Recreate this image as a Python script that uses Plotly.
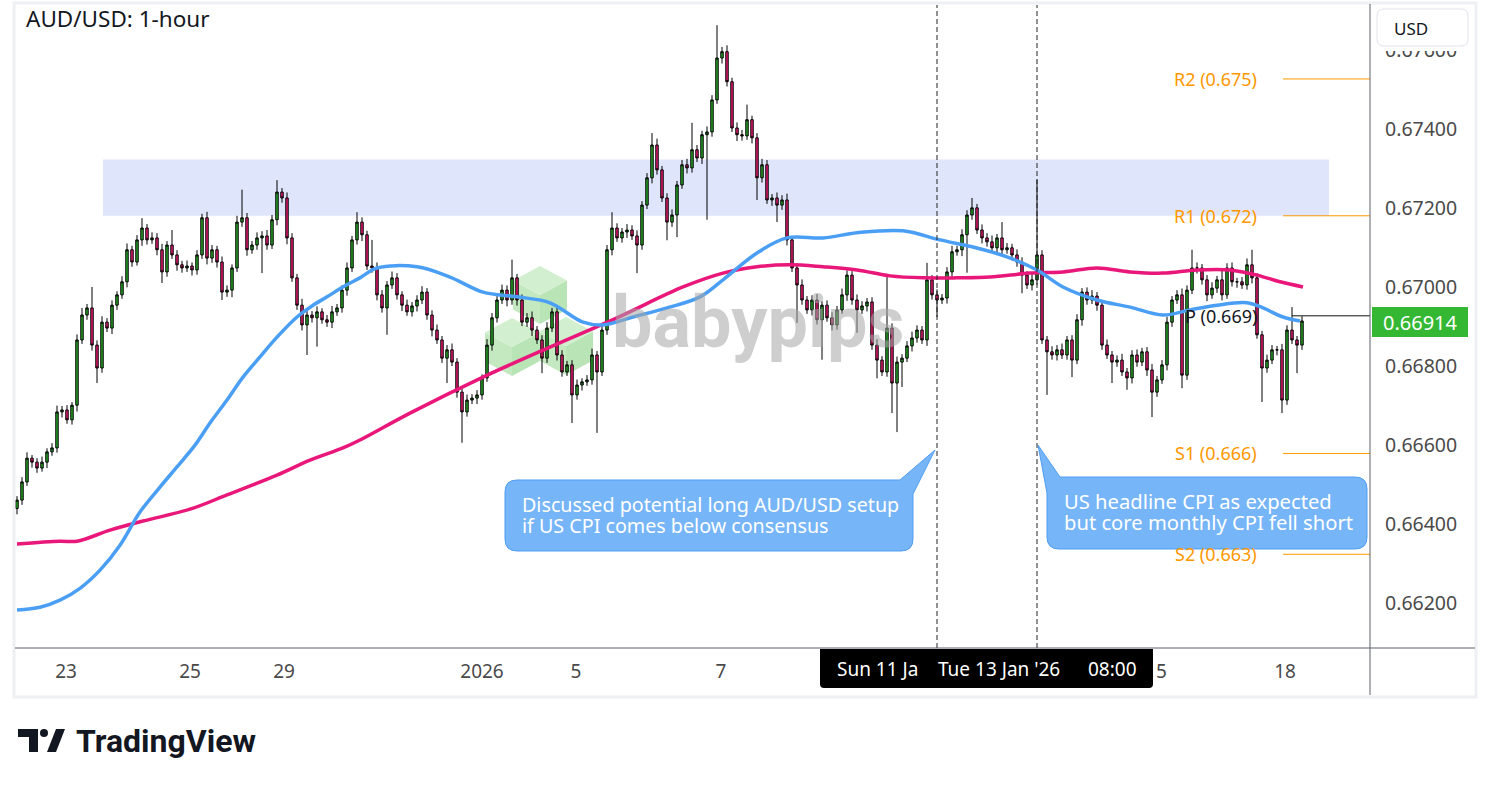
import plotly.graph_objects as go

# ---------------- data ----------------
close = [
    0.66461, 0.66507, 0.66567, 0.66557, 0.66542, 0.66557, 0.66583, 0.66593, 0.66684, 0.66689,
    0.66664, 0.66701, 0.66866, 0.66929, 0.66947, 0.66853, 0.66795, 0.66911, 0.66896, 0.66954,
    0.66980, 0.67013, 0.67094, 0.67063, 0.67119, 0.67149, 0.67119, 0.67124, 0.67094, 0.67038,
    0.67106, 0.67081, 0.67056, 0.67048, 0.67053, 0.67043, 0.67081, 0.67175, 0.67073, 0.67094,
    0.67063, 0.66987, 0.66992, 0.67048, 0.67164, 0.67175, 0.67094, 0.67106, 0.67124, 0.67129,
    0.67106, 0.67170, 0.67240, 0.67225, 0.67124, 0.67023, 0.66954, 0.66904, 0.66929, 0.66922,
    0.66937, 0.66917, 0.66911, 0.66937, 0.66947, 0.66992, 0.67048, 0.67119, 0.67164, 0.67132,
    0.67053, 0.67048, 0.66980, 0.66947, 0.67005, 0.67023, 0.66980, 0.66954, 0.66937, 0.66952,
    0.66967, 0.66987, 0.66929, 0.66891, 0.66866, 0.66820, 0.66841, 0.66810, 0.66734, 0.66684,
    0.66714, 0.66719, 0.66727, 0.66770, 0.66853, 0.66922, 0.66967, 0.66992, 0.66967, 0.67023,
    0.66967, 0.66911, 0.66922, 0.66891, 0.66866, 0.66820, 0.66896, 0.66937, 0.66828, 0.66785,
    0.66803, 0.66727, 0.66752, 0.66760, 0.66765, 0.66828, 0.66785, 0.66891, 0.67094, 0.67149,
    0.67124, 0.67139, 0.67144, 0.67129, 0.67106, 0.67207, 0.67276, 0.67359, 0.67296, 0.67225,
    0.67164, 0.67182, 0.67258, 0.67309, 0.67301, 0.67347, 0.67326, 0.67385, 0.67392, 0.67473,
    0.67579, 0.67595, 0.67519, 0.67402, 0.67385, 0.67382, 0.67423, 0.67377, 0.67276, 0.67309,
    0.67220, 0.67225, 0.67207, 0.67220, 0.67119, 0.67048, 0.67005, 0.66967, 0.66942, 0.66967,
    0.66917, 0.66954, 0.66922, 0.66904, 0.66942, 0.66980, 0.67030, 0.66967, 0.66942, 0.66952,
    0.66962, 0.66853, 0.66815, 0.66785, 0.66896, 0.66757, 0.66810, 0.66820, 0.66851, 0.66871,
    0.66891, 0.66866, 0.67018, 0.66980, 0.66967, 0.66972, 0.67038, 0.67089, 0.67094, 0.67132,
    0.67182, 0.67200, 0.67144, 0.67124, 0.67114, 0.67099, 0.67124, 0.67094, 0.67099, 0.67081,
    0.67063, 0.67030, 0.67005, 0.67018, 0.67081, 0.66866, 0.66836, 0.66828, 0.66841, 0.66828,
    0.66866, 0.66815, 0.66917, 0.66987, 0.66967, 0.66977, 0.66954, 0.66853, 0.66828, 0.66810,
    0.66815, 0.66785, 0.66770, 0.66828, 0.66810, 0.66836, 0.66790, 0.66734, 0.66765, 0.66803,
    0.66911, 0.66967, 0.66980, 0.66777, 0.66992, 0.67048, 0.67048, 0.67018, 0.66980, 0.66997,
    0.67018, 0.66980, 0.67048, 0.67013, 0.67013, 0.67005, 0.67056, 0.67023, 0.66879, 0.66795,
    0.66815, 0.66841, 0.66841, 0.66714, 0.66891, 0.66866, 0.66853, 0.66914,
]
first_open = 0.66440

# wick lengths in points (1 point = 0.00001)
upper_wick_pts = [
    10, 12, 15, 8, 10, 14, 9, 12, 16, 10,
    12, 8, 14, 18, 10, 53, 12, 15, 10, 12,
    9, 14, 16, 10, 12, 25, 10, 14, 12, 15,
    10, 38, 12, 10, 14, 9, 12, 10, 15, 12,
    10, 14, 12, 9, 16, 71, 12, 10, 14, 12,
    15, 12, 30, 10, 14, 12, 10, 16, 12, 10,
    14, 9, 12, 15, 10, 12, 14, 10, 25, 12,
    10, 66, 14, 12, 10, 16, 12, 9, 14, 10,
    12, 15, 10, 12, 14, 10, 12, 16, 10, 12,
    14, 10, 12, 9, 15, 12, 10, 14, 12, 46,
    10, 14, 12, 16, 10, 12, 15, 10, 14, 12,
    10, 12, 14, 9, 12, 16, 10, 14, 12, 40,
    12, 10, 15, 12, 14, 10, 12, 30, 16, 10,
    12, 14, 10, 12, 15, 68, 12, 10, 14, 12,
    83, 12, 16, 10, 14, 12, 38, 10, 12, 15,
    12, 10, 14, 12, 16, 10, 12, 14, 10, 12,
    15, 10, 12, 14, 10, 16, 12, 10, 14, 12,
    10, 12, 15, 10, 129, 12, 14, 10, 12, 16,
    12, 10, 43, 12, 14, 10, 12, 15, 10, 14,
    12, 25, 10, 14, 12, 16, 10, 40, 12, 10,
    14, 12, 10, 15, 190, 12, 10, 14, 12, 16,
    10, 12, 14, 10, 12, 15, 10, 12, 14, 10,
    12, 16, 10, 12, 14, 10, 12, 15, 10, 12,
    14, 10, 12, 16, 12, 46, 14, 10, 12, 15,
    10, 25, 12, 14, 10, 12, 16, 38, 12, 10,
    14, 12, 10, 15, 12, 58, 10, 12,
]
lower_wick_pts = [
    15, 12, 10, 14, 12, 9, 15, 10, 12, 14,
    10, 12, 16, 10, 12, 14, 38, 12, 10, 15,
    12, 10, 14, 12, 9, 15, 12, 10, 14, 28,
    12, 10, 15, 12, 10, 14, 12, 10, 16, 12,
    14, 20, 12, 18, 10, 12, 15, 10, 12, 89,
    12, 10, 14, 12, 16, 10, 12, 14, 76, 12,
    73, 10, 12, 15, 10, 12, 14, 10, 12, 16,
    10, 12, 14, 12, 68, 10, 12, 15, 10, 12,
    14, 10, 12, 16, 10, 12, 63, 10, 14, 78,
    12, 10, 15, 12, 10, 14, 12, 10, 16, 12,
    14, 10, 12, 15, 10, 38, 12, 10, 14, 12,
    10, 71, 12, 14, 10, 12, 154, 10, 12, 14,
    10, 12, 15, 10, 71, 12, 10, 14, 12, 10,
    46, 12, 56, 10, 14, 12, 10, 15, 215, 12,
    10, 14, 12, 10, 16, 12, 10, 14, 56, 12,
    10, 15, 43, 12, 14, 10, 96, 12, 10, 14,
    12, 101, 10, 14, 12, 10, 15, 12, 58, 10,
    14, 12, 46, 10, 12, 76, 124, 63, 10, 14,
    12, 10, 15, 12, 43, 10, 14, 12, 10, 16,
    96, 12, 10, 14, 12, 10, 15, 12, 10, 14,
    12, 46, 10, 14, 12, 10, 109, 12, 14, 10,
    12, 43, 10, 15, 12, 10, 14, 12, 10, 53,
    12, 10, 30, 14, 12, 10, 15, 63, 12, 10,
    14, 12, 10, 33, 12, 10, 14, 12, 16, 10,
    12, 14, 10, 12, 15, 10, 12, 14, 10, 86,
    12, 10, 14, 33, 12, 10, 71, 12,
]

# moving averages, sampled along the bar index
blue_ma_idx = [0, 4.6, 8.6, 12.6, 16.6, 20.6, 24.6, 28.6, 32, 35.6,
               38.6, 42, 45.2, 48.6, 52, 56, 59, 62, 65.6, 68.6,
               72, 80, 86.6, 93.2, 100, 106.6, 113.2, 117.2, 123.2, 130,
               136.6, 141.2, 148, 154, 161.2, 168, 177.2, 184.6, 191.2, 198,
               204, 209.2, 216, 222.6, 229.2, 234.6, 240, 246, 249.2, 253.2, 256.6]
blue_ma = [0.66183, 0.66190, 0.66208, 0.66238, 0.66284, 0.66347, 0.66431, 0.66494, 0.66545, 0.66600,
           0.66656, 0.66714, 0.66772, 0.66823, 0.66873, 0.66924, 0.66952, 0.66975, 0.67003, 0.67023,
           0.67048, 0.67051, 0.67025, 0.66987, 0.66975, 0.66960, 0.66911, 0.66904, 0.66924, 0.66947,
           0.66975, 0.67018, 0.67086, 0.67124, 0.67124, 0.67137, 0.67142, 0.67119, 0.67101, 0.67076,
           0.67043, 0.67000, 0.66967, 0.66949, 0.66929, 0.66942, 0.66954, 0.66960, 0.66947, 0.66924, 0.66914]
pink_ma_idx = [0, 8.6, 12, 18.6, 25.2, 34.6, 42, 52, 58.6, 65.2,
               68.6, 78.6, 93.2, 106.6, 120, 133.2, 141.2, 148, 154.6, 161.2,
               168, 174.6, 181.2, 188, 194.6, 202.6, 209.2, 216, 222.6, 229.2,
               236, 242.6, 248, 252.6, 257.2]
pink_ma = [0.66350, 0.66357, 0.66357, 0.66385, 0.66408, 0.66438, 0.66474, 0.66524, 0.66562, 0.66593,
           0.66613, 0.66681, 0.66772, 0.66848, 0.66922, 0.67000, 0.67035, 0.67051, 0.67056, 0.67051,
           0.67043, 0.67028, 0.67023, 0.67023, 0.67025, 0.67035, 0.67038, 0.67048, 0.67038, 0.67035,
           0.67043, 0.67043, 0.67030, 0.67013, 0.67000]

date_tick_idx = [9.8, 34.6, 53.4, 93, 111.8, 140.8, 227.8, 253.6]
date_tick_text = ["23", "25", "29", "2026", "5", "7", "15", "18"]
price_ticks = [0.662, 0.664, 0.666, 0.668, 0.670, 0.672, 0.674, 0.676]

pivot_names = ["R2", "R1", "P", "S1", "S2"]
pivot_values = [0.67526, 0.67180, 0.66927, 0.66579, 0.66324]
pivot_labels = ["R2 (0.675)", "R1 (0.672)", "P (0.669)", "S1 (0.666)", "S2 (0.663)"]
pivot_start_idx = [253.2, 253.2, 255.0, 253.2, 253.2]

zone_low, zone_high = 0.67180, 0.67322
zone_start_idx, zone_end_idx = 17.2, 262.4
event_idx = [184, 204]
last_price = 0.66914

title_text = "AUD/USD: 1-hour"
note_left = ["Discussed potential long AUD/USD setup", "if US CPI comes below consensus"]
note_right = ["US headline CPI as expected", "but core monthly CPI fell short"]

# ---------------- derived OHLC ----------------
opens = [first_open] + close[:-1]
highs = [max(o, c) + u * 1e-5 for o, c, u in zip(opens, close, upper_wick_pts)]
lows = [min(o, c) - d * 1e-5 for o, c, d in zip(opens, close, lower_wick_pts)]
bar_idx = list(range(len(close)))

# ---------------- geometry helpers (pixel -> paper) ----------------
W, H = 1491, 786
PL, PR, PT, PB = 15, 1370, 5, 648
X_RANGE = [-0.4, 270.6]
Y_RANGE = [0.66087, 0.67713]


def fx(px):
    return (px - PL) / (PR - PL)


def fy(py):
    return (PB - py) / (PB - PT)


def svg_path(cmds):
    out = []
    for c in cmds:
        op = c[0]
        pts = c[1:]
        coords = []
        for k in range(0, len(pts), 2):
            coords.append(f"{fx(pts[k]):.5f},{fy(pts[k + 1]):.5f}")
        out.append(op + " ".join(coords))
    return " ".join(out) + " Z"


FONT = "Noto Sans"
GREEN = "#27a627"
PINK = "#e8196f"

fig = go.Figure()

fig.add_trace(go.Candlestick(
    x=bar_idx, open=opens, high=highs, low=lows, close=close,
    increasing=dict(line=dict(color="#000000", width=1), fillcolor=GREEN),
    decreasing=dict(line=dict(color="#000000", width=1), fillcolor=PINK),
    whiskerwidth=0, hoverinfo="skip", showlegend=False,
))
fig.add_trace(go.Scatter(
    x=pink_ma_idx, y=pink_ma, mode="lines",
    line=dict(color="#e9177a", width=3.5, shape="spline", smoothing=1.0),
    hoverinfo="skip", showlegend=False,
))
fig.add_trace(go.Scatter(
    x=blue_ma_idx, y=blue_ma, mode="lines",
    line=dict(color="#4a9ff5", width=3.5, shape="spline", smoothing=1.0),
    hoverinfo="skip", showlegend=False,
))

shapes = []
# resistance zone
shapes.append(dict(type="rect", xref="x", yref="y", x0=zone_start_idx, x1=zone_end_idx,
                   y0=zone_low, y1=zone_high, fillcolor="#dfe6fc", line=dict(width=0), layer="below"))

# babypips cube logo (watermark)
def cube(cx, cy, w, r):
    top = svg_path([("M", cx, cy - r), ("L", cx + w, cy - r / 2), ("L", cx, cy), ("L", cx - w, cy - r / 2)])
    left = svg_path([("M", cx - w, cy - r / 2), ("L", cx, cy), ("L", cx, cy + r), ("L", cx - w, cy + r / 2)])
    right = svg_path([("M", cx, cy), ("L", cx + w, cy - r / 2), ("L", cx + w, cy + r / 2), ("L", cx, cy + r)])
    return [(left, "#c4e9c0"), (right, "#b9e4b5"), (top, "#d2f0cf")]

for cx, cy in [(512, 347), (566, 346), (540, 295)]:
    for p, col in cube(cx, cy, 27, 29):
        shapes.append(dict(type="path", xref="paper", yref="paper", path=p, fillcolor=col,
                           line=dict(width=0), layer="below"))

# event lines
for ei in event_idx:
    shapes.append(dict(type="line", xref="x", yref="paper", x0=ei, x1=ei, y0=0, y1=1,
                       line=dict(color="#222222", width=1, dash="5px,3px")))

# pivot lines
for val, start, name in zip(pivot_values, pivot_start_idx, pivot_names):
    col = "#111111" if name == "P" else "#ff9800"
    shapes.append(dict(type="line", xref="x", yref="y", x0=start, x1=X_RANGE[1], y0=val, y1=val,
                       line=dict(color=col, width=1)))

# callout bubbles
left_bubble = svg_path([
    ("M", 517, 480), ("L", 900, 480), ("L", 935, 450), ("L", 913, 494), ("L", 913, 539),
    ("Q", 913, 551, 901, 551), ("L", 517, 551), ("Q", 505, 551, 505, 539), ("L", 505, 492),
    ("Q", 505, 480, 517, 480)])
right_bubble = svg_path([
    ("M", 1060, 477), ("L", 1355, 477), ("Q", 1367, 477, 1367, 489), ("L", 1367, 537),
    ("Q", 1367, 549, 1355, 549), ("L", 1059, 549), ("Q", 1047, 549, 1047, 537), ("L", 1047, 493),
    ("L", 1038, 445)])
for p in (left_bubble, right_bubble):
    shapes.append(dict(type="path", xref="paper", yref="paper", path=p, fillcolor="#76b5f8",
                       line=dict(color="#4f9ef2", width=1), layer="above"))

# frame, axis lines
shapes.append(dict(type="rect", xref="paper", yref="paper", x0=fx(14), x1=fx(1476), y0=fy(697), y1=fy(3),
                   line=dict(color="#eef0f3", width=3), fillcolor="rgba(0,0,0,0)", layer="above"))
shapes.append(dict(type="line", xref="paper", yref="paper", x0=fx(15), x1=fx(1475), y0=0, y1=0,
                   line=dict(color="#5d606b", width=1), layer="above"))
shapes.append(dict(type="line", xref="paper", yref="paper", x0=1, x1=1, y0=fy(695), y1=fy(4),
                   line=dict(color="#5d606b", width=1), layer="above"))

# last price box, USD box, crosshair label box
shapes.append(dict(type="rect", xref="paper", yref="paper", x0=fx(1372), x1=fx(1468), y0=fy(337), y1=fy(307),
                   fillcolor="#34b833", line=dict(width=0), layer="above"))
shapes.append(dict(type="rect", xref="paper", yref="paper", x0=fx(1373), x1=fx(1472), y0=fy(51), y1=fy(8),
                   fillcolor="#ffffff", line=dict(width=0), layer="above"))
usd_box = svg_path([("M", 1384, 9), ("L", 1461, 9), ("Q", 1468, 9, 1468, 16), ("L", 1468, 39),
                    ("Q", 1468, 46, 1461, 46), ("L", 1384, 46), ("Q", 1377, 46, 1377, 39),
                    ("L", 1377, 16), ("Q", 1377, 9, 1384, 9)])
shapes.append(dict(type="path", xref="paper", yref="paper", path=usd_box, fillcolor="#ffffff",
                   line=dict(color="#e0e3eb", width=1), layer="above"))
cross_box = svg_path([("M", 820, 649), ("L", 1153, 649), ("L", 1153, 684), ("Q", 1153, 688, 1149, 688),
                      ("L", 824, 688), ("Q", 820, 688, 820, 684)])
shapes.append(dict(type="path", xref="paper", yref="paper", path=cross_box, fillcolor="#000000",
                   line=dict(width=0), layer="above"))

# TradingView logo glyph
tv_t = svg_path([("M", 18, 729), ("L", 38, 729), ("L", 38, 752), ("L", 29, 752), ("L", 29, 737), ("L", 18, 737)])
tv_slash = svg_path([("M", 47, 752), ("L", 56, 729), ("L", 65, 729), ("L", 56, 752)])
for p in (tv_t, tv_slash):
    shapes.append(dict(type="path", xref="paper", yref="paper", path=p, fillcolor="#131722",
                       line=dict(width=0), layer="above"))
shapes.append(dict(type="circle", xref="paper", yref="paper", x0=fx(40), x1=fx(48), y0=fy(737), y1=fy(729),
                   fillcolor="#131722", line=dict(width=0), layer="above"))

annotations = []
annotations.append(dict(xref="paper", yref="paper", x=fx(24), y=fy(19), text=title_text, showarrow=False,
                        xanchor="left", yanchor="middle", font=dict(family=FONT, size=22.5, color="#131722")))
annotations.append(dict(xref="paper", yref="paper", x=fx(758), y=fy(322), text="<b>babypips</b>",
                        showarrow=False, xanchor="center", yanchor="middle",
                        font=dict(family="Roboto", size=72, color="rgba(165,165,165,0.55)")))
for val, lab, name in zip(pivot_values, pivot_labels, pivot_names):
    col = "#131722" if name == "P" else "#ff9800"
    annotations.append(dict(xref="paper", yref="y", x=fx(1259), y=val, text=lab, showarrow=False,
                            xanchor="right", yanchor="middle", font=dict(family=FONT, size=18, color=col)))
for k, line in enumerate(note_left):
    annotations.append(dict(xref="paper", yref="paper", x=fx(520), y=fy(504 + 21 * k), text=line,
                            showarrow=False, xanchor="left", yanchor="middle",
                            font=dict(family=FONT, size=19.7, color="#ffffff")))
for k, line in enumerate(note_right):
    annotations.append(dict(xref="paper", yref="paper", x=fx(1062), y=fy(501 + 21 * k), text=line,
                            showarrow=False, xanchor="left", yanchor="middle",
                            font=dict(family=FONT, size=20.2, color="#ffffff")))
annotations.append(dict(xref="paper", yref="paper", x=fx(1420), y=fy(322), text=f"{last_price:.5f}",
                        showarrow=False, xanchor="center", yanchor="middle",
                        font=dict(family=FONT, size=20, color="#ffffff")))
annotations.append(dict(xref="paper", yref="paper", x=fx(1392), y=fy(28), text="USD", showarrow=False,
                        xanchor="left", yanchor="middle", font=dict(family=FONT, size=17, color="#131722")))
annotations.append(dict(xref="paper", yref="paper", x=fx(835), y=fy(669), text="Sun 11 Ja", showarrow=False,
                        xanchor="left", yanchor="middle", font=dict(family=FONT, size=19, color="#ffffff")))
annotations.append(dict(xref="paper", yref="paper", x=fx(936), y=fy(669), text="Tue 13 Jan '26",
                        showarrow=False, xanchor="left", yanchor="middle",
                        font=dict(family=FONT, size=19, color="#ffffff")))
annotations.append(dict(xref="paper", yref="paper", x=fx(1086), y=fy(669), text="08:00", showarrow=False,
                        xanchor="left", yanchor="middle", font=dict(family=FONT, size=19, color="#ffffff")))
annotations.append(dict(xref="paper", yref="paper", x=fx(74), y=fy(741), text="<b>TradingView</b>",
                        showarrow=False, xanchor="left", yanchor="middle",
                        font=dict(family="Roboto", size=32, color="#131722")))

fig.update_layout(
    width=W, height=H, autosize=False,
    margin=dict(l=PL, r=W - PR, t=PT, b=H - PB),
    paper_bgcolor="#ffffff", plot_bgcolor="#ffffff",
    showlegend=False, hovermode=False,
    shapes=shapes, annotations=annotations,
    xaxis=dict(range=X_RANGE, tickvals=date_tick_idx, ticktext=date_tick_text, showgrid=False,
               zeroline=False, showline=False, ticks="", ticklabelstandoff=10,
               tickfont=dict(family=FONT, size=19, color="#4a4a4a"),
               rangeslider=dict(visible=False), fixedrange=True),
    yaxis=dict(range=Y_RANGE, side="right", tickvals=price_ticks, tickformat=".5f", showgrid=False,
               zeroline=False, showline=False, ticks="", ticklabelstandoff=14,
               tickfont=dict(family=FONT, size=19.5, color="#4a4a4a"), fixedrange=True),
)

fig.write_html("out.html", config={"displayModeBar": False, "staticPlot": True},
               post_script="document.body.style.margin='0';document.body.style.overflow='hidden';")
